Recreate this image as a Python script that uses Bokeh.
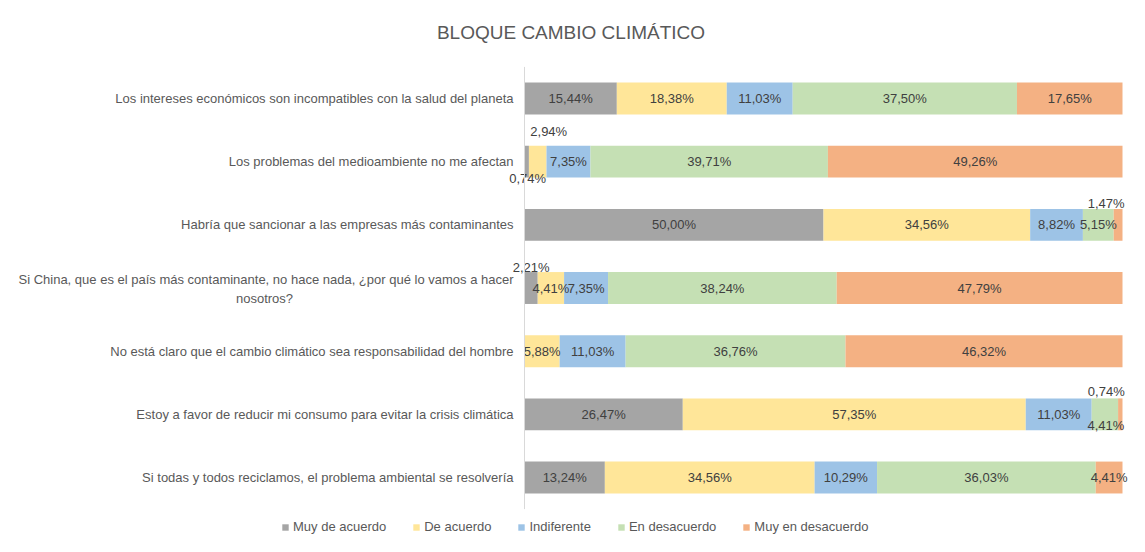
from bokeh.plotting import figure
from bokeh.models import Range1d, ColumnDataSource, Legend, LegendItem
from bokeh.core.properties import value
from bokeh.embed import file_html
from bokeh.resources import INLINE

# ---------------- data ----------------
title_text = "BLOQUE CAMBIO CLIMÁTICO"
categories = [
    "Los intereses económicos son incompatibles con la salud del planeta",
    "Los problemas del medioambiente no me afectan",
    "Habría que sancionar a las empresas más contaminantes",
    "Si China, que es el país más contaminante, no hace nada, ¿por qué lo vamos a hacer\nnosotros?",
    "No está claro que el cambio climático sea responsabilidad del hombre",
    "Estoy a favor de reducir mi consumo para evitar la crisis climática",
    "Si todas y todos reciclamos, el problema ambiental se resolvería",
]
series = ["Muy de acuerdo", "De acuerdo", "Indiferente", "En desacuerdo", "Muy en desacuerdo"]
muy_de_acuerdo = [15.44, 0.74, 50.00, 2.21, 0.00, 26.47, 13.24]
de_acuerdo = [18.38, 2.94, 34.56, 4.41, 5.88, 57.35, 34.56]
indiferente = [11.03, 7.35, 8.82, 7.35, 11.03, 11.03, 10.29]
en_desacuerdo = [37.50, 39.71, 5.15, 38.24, 36.76, 4.41, 36.03]
muy_en_desacuerdo = [17.65, 49.26, 1.47, 47.79, 46.32, 0.74, 4.41]
values_by_series = [muy_de_acuerdo, de_acuerdo, indiferente, en_desacuerdo, muy_en_desacuerdo]
colors = ["#A5A5A5", "#FFE699", "#9DC3E6", "#C5E0B4", "#F4B183"]

# label nudges in pixels (row, series) -> (dx, dy)
label_nudges = {(1, 0): (1, 17), (1, 1): (11, -30), (2, 4): (-12, -21),
                (3, 0): (0, -21), (5, 4): (-14, -23), (5, 3): (1, 11)}

# ---------------- layout ----------------
W, H = 1129, 536
X0_PX, X100_PX = 524, 1122
ROW0_PX, ROW_STEP = 98, 63.17
ppu = (X100_PX - X0_PX) / 100.0
n = len(categories)

x_start = -X0_PX / ppu
x_end = (W - X0_PX) / ppu
y_bottom = (H - ROW0_PX) / ROW_STEP
y_top = -ROW0_PX / ROW_STEP

p = figure(width=W, height=H, x_range=Range1d(x_start, x_end),
           y_range=Range1d(y_bottom, y_top), output_backend="svg",
           toolbar_location=None, min_border=0, x_axis_location=None,
           y_axis_location=None, outline_line_color=None)
p.grid.visible = False
p.background_fill_color = "white"
p.border_fill_color = "white"

FONT = value("Liberation Sans")

rows = list(range(n))
totals = [sum(v[i] for v in values_by_series) for i in rows]
cum = [0.0] * n
renderers = []
lx, ly, lt, lxo, lyo = [], [], [], [], []
for j, vals in enumerate(values_by_series):
    left = [cum[i] for i in rows]
    right = [cum[i] + vals[i] / totals[i] * 100 for i in rows]
    src = ColumnDataSource(dict(y=rows, left=left, right=right))
    r = p.hbar(y="y", left="left", right="right", height=0.505, source=src,
               fill_color=colors[j], line_color=None)
    renderers.append(r)
    for i in rows:
        if vals[i] > 0:
            dx, dy = label_nudges.get((i, j), (0, 0))
            lx.append((left[i] + right[i]) / 2)
            ly.append(i)
            lt.append(f"{vals[i]:.2f}".replace(".", ",") + "%")
            lxo.append(dx)
            lyo.append(dy)
    cum = right

p.text(x="x", y="y", text="text", x_offset="xo", y_offset="yo",
       source=ColumnDataSource(dict(x=lx, y=ly, text=lt, xo=lxo, yo=lyo)),
       text_align="center", text_baseline="middle", text_font=FONT,
       text_font_size="13px", text_color="#404040")

# category labels
cx, cy, ct, cyo = [], [], [], []
c2x, c2y, c2t, c2yo = [], [], [], []
for i, c in enumerate(categories):
    parts = c.split("\n")
    if len(parts) == 1:
        cx.append(0); cy.append(i); ct.append(c); cyo.append(0)
    else:
        cx.append(0); cy.append(i); ct.append(parts[0]); cyo.append(-9)
        c2x.append(0); c2y.append(i); c2t.append(parts[1]); c2yo.append(10)
p.text(x="x", y="y", text="text", y_offset="yo", x_offset=-11,
       source=ColumnDataSource(dict(x=cx, y=cy, text=ct, yo=cyo)),
       text_align="right", text_baseline="middle", text_font=FONT,
       text_font_size="13px", text_color="#595959")
p.text(x="x", y="y", text="text", y_offset="yo", x_offset=-260,
       source=ColumnDataSource(dict(x=c2x, y=c2y, text=c2t, yo=c2yo)),
       text_align="center", text_baseline="middle", text_font=FONT,
       text_font_size="13px", text_color="#595959")

# vertical category axis line
p.segment(x0=[0], y0=[-0.5], x1=[0], y1=[n - 0.5], line_color="#D9D9D9", line_width=1)

# title
p.text(x=[(570.5 - X0_PX) / ppu], y=[(32 - ROW0_PX) / ROW_STEP], text=[title_text],
       text_align="center", text_baseline="middle", text_font=FONT,
       text_font_size="19px", text_color="#595959")

legend = Legend(items=[LegendItem(label=s, renderers=[r]) for s, r in zip(series, renderers)],
                orientation="horizontal", location=(281, 2), glyph_width=8, glyph_height=8,
                label_standoff=4, spacing=26, padding=0, margin=0,
                border_line_color=None, background_fill_alpha=0,
                label_text_font="Liberation Sans", label_text_font_size="13px",
                label_text_color="#595959", label_height=13)
p.add_layout(legend)

open("out.html", "w").write(file_html(p, INLINE))
